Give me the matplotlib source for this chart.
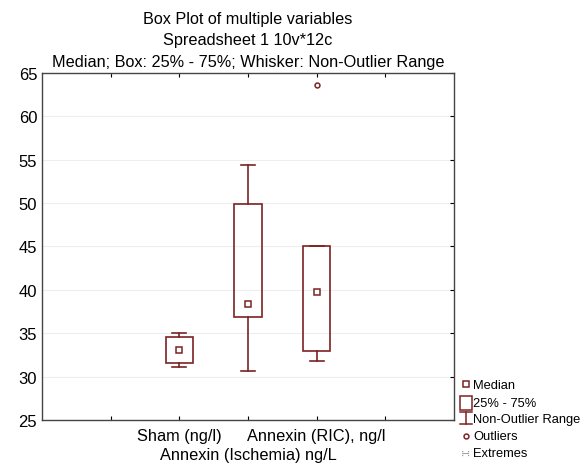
import matplotlib
matplotlib.use("Agg")
import matplotlib.pyplot as plt
from matplotlib.patches import Rectangle

plt.rcParams['font.family'] = ['Liberation Sans', 'DejaVu Sans']

# values
labels = ['Sham (ng/l)', 'Annexin (Ischemia) ng/L', 'Annexin (RIC), ng/l']
positions = [2, 3, 4]
medians = [33.1, 38.4, 39.7]
q1 = [31.6, 36.85, 32.95]
q3 = [34.55, 49.85, 45.0]
whisk_lo = [31.1, 30.6, 31.8]
whisk_hi = [35.0, 54.4, 45.0]
outlier_pos = [4]
outlier_val = [63.6]

col = '#7b2323'
box_w = 0.4
cap_w = 0.2

fig = plt.figure(figsize=(5.85, 4.64), dpi=100)
ax = fig.add_axes([0.0718, 0.0927, 0.776 - 0.0718, 0.8405 - 0.0927])

for p, m, lo, hi, wl, wh in zip(positions, medians, q1, q3, whisk_lo, whisk_hi):
    ax.add_patch(Rectangle((p - box_w / 2, lo), box_w, hi - lo, fill=False,
                           edgecolor=col, lw=1.2, zorder=3))
    ax.plot([p, p], [hi, wh], color=col, lw=1.2, zorder=3)
    ax.plot([p, p], [wl, lo], color=col, lw=1.2, zorder=3)
    ax.plot([p - cap_w / 2, p + cap_w / 2], [wh, wh], color=col, lw=1.2, zorder=3)
    ax.plot([p - cap_w / 2, p + cap_w / 2], [wl, wl], color=col, lw=1.2, zorder=3)
    ax.plot([p], [m], marker='s', ms=4.5, mfc='white', mec=col, mew=1.1, zorder=4)

ax.plot(outlier_pos, outlier_val, 'o', ms=3.5, mfc='white', mec=col, mew=1.1, zorder=4)

ax.set_xlim(0, 6)
ax.set_ylim(25, 65)
ax.set_yticks(range(25, 66, 5))
ax.set_xticks([1, 2, 3, 4, 5])
ax.set_xticklabels(['', labels[0], labels[1], labels[2], ''])
ax.tick_params(axis='x', direction='in', length=3, labelsize=11.8, pad=6, top=True)
ax.tick_params(axis='y', direction='in', length=3, labelsize=12, right=True, left=False)
# middle label sits on a second row, like the original
ax.xaxis.get_major_ticks()[2].set_pad(19.5)
ax.grid(axis='y', color='#eeeeee', lw=0.8)
for s in ax.spines.values():
    s.set_color('#444444')
    s.set_linewidth(1.0)

fig.text(0.424, 0.959, 'Box Plot of multiple variables', ha='center', va='center', fontsize=11.7)
fig.text(0.424, 0.912, 'Spreadsheet 1 10v*12c', ha='center', va='center', fontsize=11.7)
fig.text(0.424, 0.866, 'Median; Box: 25% - 75%; Whisker: Non-Outlier Range',
         ha='center', va='center', fontsize=11.7)

# legend drawn in its own small axes
lg = fig.add_axes([0, 0, 1, 1], facecolor='none')
lg.set_xlim(0, 585)
lg.set_ylim(464, 0)
lg.axis('off')
gx = 466
lg.plot([gx], [385], marker='s', ms=4, mfc='white', mec=col, mew=1.1)
lg.add_patch(Rectangle((gx - 6, 397), 12, 14, fill=False, edgecolor=col, lw=1.1))
lg.plot([gx, gx], [413, 425], color=col, lw=1.1)
lg.plot([gx - 6, gx + 6], [413, 413], color=col, lw=1.1)
lg.plot([gx - 6, gx + 6], [425, 425], color=col, lw=1.1)
lg.plot([gx], [437], marker='o', ms=3.5, mfc='white', mec=col, mew=1.1)
lg.text(gx, 454, '∺', ha='center', va='center', fontsize=8, color='#999999',
        family='DejaVu Sans')
items = ['Median', '25% - 75%', 'Non-Outlier Range', 'Outliers', 'Extremes']
for yy, t in zip([386, 404, 420, 437, 454], items):
    lg.text(473, yy, t, ha='left', va='center', fontsize=9.3)

fig.savefig('out.png', dpi=100)
